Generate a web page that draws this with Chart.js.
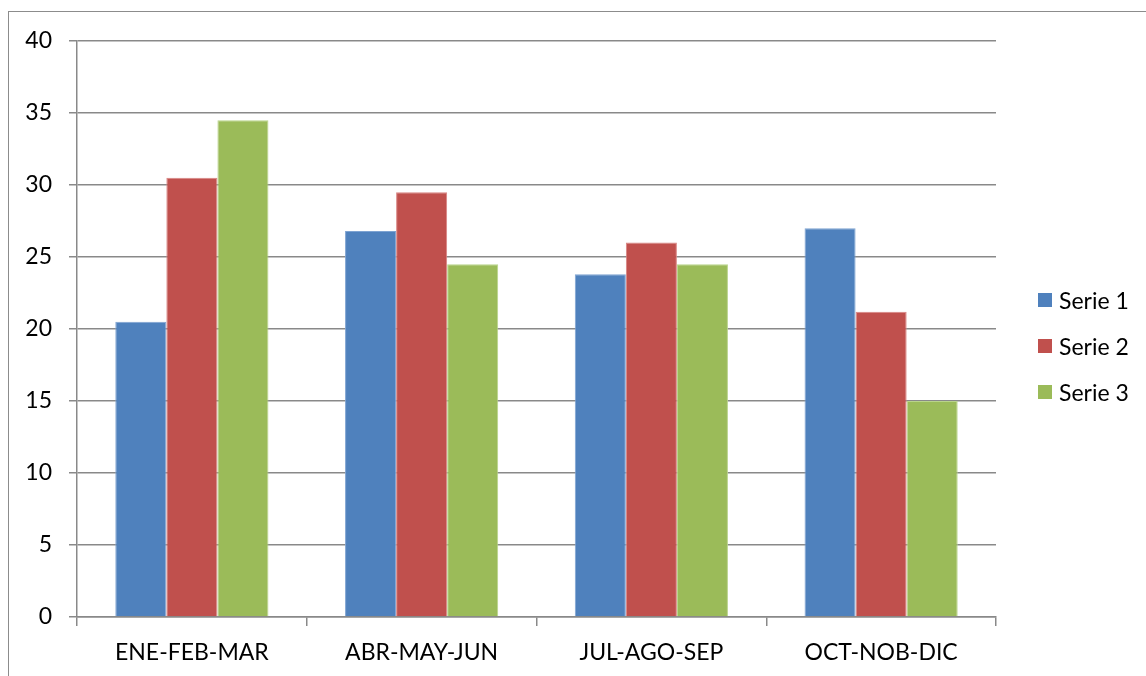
<!DOCTYPE html>
<html>
<head>
<meta charset="utf-8">
<script src="https://cdn.jsdelivr.net/npm/chart.js@4.4.4/dist/chart.umd.min.js"></script>
<style>
  html, body { margin: 0; padding: 0; background: #fff; overflow: hidden; }
  #wrap { position: relative; width: 1146px; height: 676px; }
  #frame { position: absolute; left: 8px; top: 11px; width: 1200px; height: 700px; border: 1px solid #8c8c8c; box-sizing: border-box; }
  #chart { position: absolute; left: 0; top: 0; }
  #legend { position: absolute; left: 1038px; top: 290px; font-family: Lato, sans-serif; font-size: 23px; color: #000; }
  #legend .item { display: flex; align-items: center; height: 20px; margin-bottom: 26px; }
  #legend .box { width: 14px; height: 14px; margin-right: 7px; }
</style>
</head>
<body>
<div id="wrap">
  <div id="frame"></div>
  <canvas id="chart" width="1146" height="676"></canvas>
  <div id="legend"></div>
</div>
<script>
const categories = ["ENE-FEB-MAR", "ABR-MAY-JUN", "JUL-AGO-SEP", "OCT-NOB-DIC"]
const serie1 = [20.5, 26.8, 23.8, 27.0]
const serie2 = [30.5, 29.5, 26.0, 21.2]
const serie3 = [34.5, 24.5, 24.5, 15.0]
const seriesNames = ["Serie 1", "Serie 2", "Serie 3"]
const yTicks = [0, 5, 10, 15, 20, 25, 30, 35, 40]

const fills = ["#4f81bd", "#c0504d", "#9bbb59"]
const edges = ["#7ea3d2", "#d98482", "#b9d48a"]
const gridColor = "#898989"
const font = { family: "Lato, sans-serif", size: 23 }

const datasets = [serie1, serie2, serie3].map((values, i) => ({
    label: seriesNames[i],
    data: values,
    backgroundColor: fills[i],
    borderColor: edges[i],
    borderWidth: 1,
    categoryPercentage: 3 / 4.5,
    barPercentage: 1.0
}))

const chart = new Chart(document.getElementById("chart"), {
    type: "bar",
    data: { labels: categories, datasets: datasets },
    options: {
        responsive: false,
        animation: false,
        layout: { padding: { left: 0, right: 150, top: 41, bottom: 0 } },
        plugins: {
            legend: { display: false },
            tooltip: { enabled: false }
        },
        scales: {
            x: {
                grid: {
                    offset: true,
                    drawOnChartArea: false,
                    drawTicks: true,
                    tickLength: 9,
                    color: gridColor,
                    lineWidth: 1.5
                },
                border: { display: true, color: gridColor, width: 1.5 },
                ticks: { color: "#000", font: font, padding: 13, maxRotation: 0 },
                afterFit(scale) { scale.height = 59 }
            },
            y: {
                min: 0,
                max: 40,
                afterBuildTicks(scale) { scale.ticks = yTicks.map(v => ({ value: v })) },
                grid: {
                    color: gridColor,
                    lineWidth: 1.5,
                    drawTicks: true,
                    tickLength: 8
                },
                border: { display: true, color: gridColor, width: 1.5 },
                ticks: { color: "#000", font: font, padding: 17 },
                afterFit(scale) { scale.width = 77 }
            }
        }
    }
})

// html legend built from the datasets
const legendEl = document.getElementById("legend")
chart.data.datasets.forEach(ds => {
    const item = document.createElement("div")
    item.className = "item"
    const box = document.createElement("span")
    box.className = "box"
    box.style.background = ds.backgroundColor
    const txt = document.createElement("span")
    txt.textContent = ds.label
    item.appendChild(box)
    item.appendChild(txt)
    legendEl.appendChild(item)
})
</script>
</body>
</html>
